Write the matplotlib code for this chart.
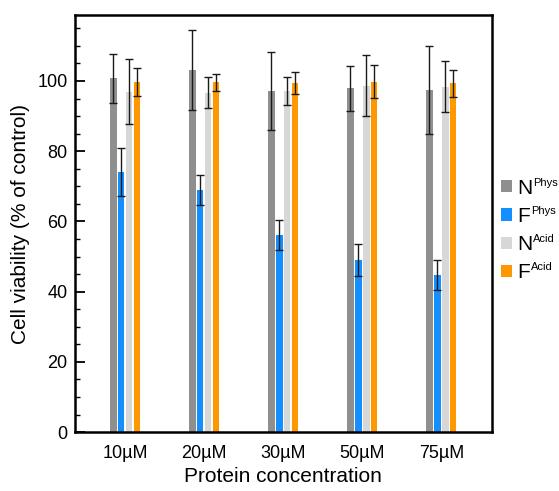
import numpy as np
import matplotlib
matplotlib.use("Agg")
import matplotlib.pyplot as plt
from matplotlib.ticker import MultipleLocator
from matplotlib.transforms import IdentityTransform

plt.rcParams['font.family'] = ['Liberation Sans', 'DejaVu Sans']

# ------------------------------------------------
# Data
# ------------------------------------------------
concentrations = ["10µM", "20µM", "30µM", "50µM", "75µM"]
series_base = ["N", "F", "N", "F"]
series_sup = ["Phys", "Phys", "Acid", "Acid"]

n_phys = [100.8, 103.1, 97.2, 97.9, 97.4]
n_phys_err = [7.0, 11.3, 11.1, 6.5, 12.5]
f_phys = [74.0, 68.9, 56.1, 49.0, 44.7]
f_phys_err = [6.8, 4.2, 4.2, 4.6, 4.2]
n_acid = [97.0, 96.7, 97.2, 98.6, 98.4]
n_acid_err = [9.2, 4.3, 3.9, 8.7, 7.3]
f_acid = [99.8, 99.6, 99.5, 99.8, 99.3]
f_acid_err = [4.0, 2.5, 3.2, 4.7, 3.8]

colors = ["#8f8f8f", "#148fff", "#d7d7d7", "#ff9800"]

# ------------------------------------------------
# Plot
# ------------------------------------------------
fig = plt.figure(figsize=(5.59, 4.91), dpi=100)
ax = fig.add_axes([0.1333, 0.120, 0.7467, 0.8495])

x = np.arange(len(concentrations))
offsets = [-0.15, -0.05, 0.05, 0.15]
width = 0.083

values = [n_phys, f_phys, n_acid, f_acid]
errors = [n_phys_err, f_phys_err, n_acid_err, f_acid_err]

for vals, errs, off, col, name in zip(values, errors, offsets, colors, series_base):
    ax.bar(x + off, vals, width, color=col, label=name, zorder=2)
    ax.errorbar(x + off, vals, yerr=errs, fmt="none", ecolor="#1a1a1a",
                elinewidth=1.0, capsize=3, capthick=1.0, zorder=3)

ax.set_xlim(-0.64, 4.64)
ax.set_ylim(0, 118.8)
ax.set_xticks(x)
ax.set_xticklabels(concentrations, fontsize=13)
ax.tick_params(axis="x", length=0, pad=9)
ax.yaxis.set_major_locator(MultipleLocator(20))
ax.yaxis.set_minor_locator(MultipleLocator(5))
ax.tick_params(axis="y", which="major", direction="in", length=7, width=1.3,
               labelsize=13, pad=5)
ax.tick_params(axis="y", which="minor", direction="in", length=3.5, width=1.0)

for s in ax.spines.values():
    s.set_linewidth(1.8)

ax.set_xlabel("Protein concentration", fontsize=15, labelpad=4)
ax.set_ylabel("Cell viability (% of control)", fontsize=15, labelpad=5)

leg = fig.legend(loc="upper left", bbox_to_anchor=(0.896, 0.636), frameon=False,
                 fontsize=15, handlelength=0.52, handleheight=0.52,
                 handletextpad=0.28, labelspacing=0.44, borderaxespad=0,
                 borderpad=0)

# small superscripts next to the legend letters (placed in pixels after a draw)
fig.canvas.draw()
for txt, sup in zip(leg.get_texts(), series_sup):
    bb = txt.get_window_extent()
    fig.text(bb.x1 + 0.5, bb.y1 + 1, sup, transform=IdentityTransform(),
             ha="left", va="top", fontsize=8)

fig.savefig("out.png", dpi=100)
